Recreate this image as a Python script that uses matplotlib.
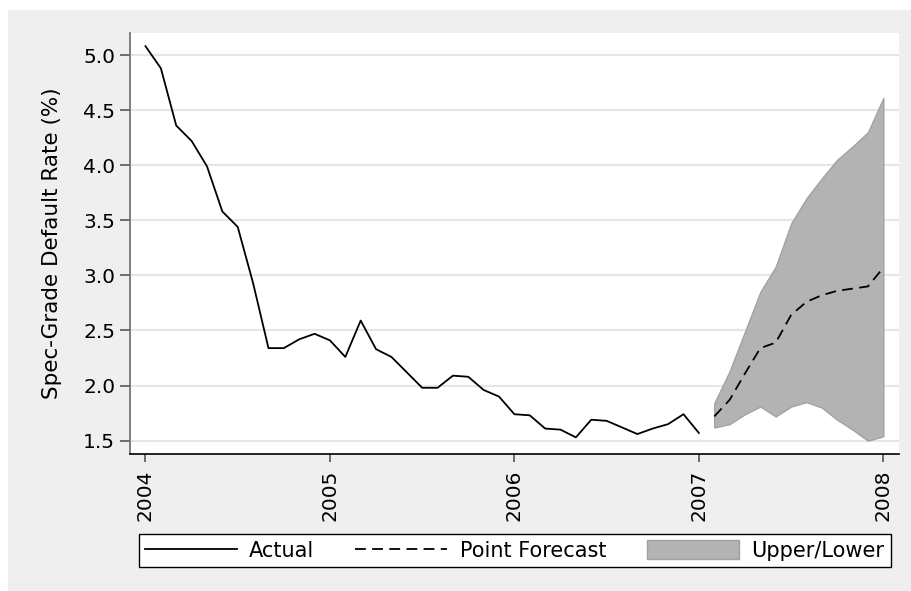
import numpy as np
import matplotlib
matplotlib.use("Agg")
import matplotlib.pyplot as plt
from matplotlib.patches import Rectangle

# monthly speculative-grade default rate, Jan 2004 - Jan 2007
actual = [5.08, 4.88, 4.36, 4.22, 3.99, 3.58, 3.44, 2.93, 2.34, 2.34, 2.42, 2.47, 2.41,
          2.26, 2.59, 2.33, 2.26, 2.12, 1.98, 1.98, 2.09, 2.08, 1.96, 1.90, 1.74,
          1.73, 1.61, 1.60, 1.53, 1.69, 1.68, 1.62, 1.56, 1.61, 1.65, 1.74, 1.57]

# forecast Feb 2007 - Jan 2008
forecast = [1.72, 1.87, 2.11, 2.34, 2.39, 2.64, 2.76, 2.82, 2.86, 2.88, 2.90, 3.07]
upper = [1.84, 2.13, 2.49, 2.85, 3.08, 3.47, 3.70, 3.88, 4.05, 4.17, 4.30, 4.61]
lower = [1.62, 1.65, 1.74, 1.81, 1.72, 1.81, 1.85, 1.80, 1.69, 1.60, 1.50, 1.54]

start_year = 2004
year_ticks = [2004, 2005, 2006, 2007, 2008]
y_ticks = [1.5, 2.0, 2.5, 3.0, 3.5, 4.0, 4.5, 5.0]

x_actual = start_year + np.arange(len(actual)) / 12
x_fc = x_actual[-1] + (np.arange(len(forecast)) + 1) / 12

plt.rcParams['font.family'] = ['DejaVu Sans']
fs = 14.5

W, H = 912, 591
fig = plt.figure(figsize=(W / 100, H / 100), dpi=100, facecolor='white')

# light gray graph region behind the plot
fig.patches.append(Rectangle((8 / W, 0), (W - 8) / W, (H - 10) / H,
                             transform=fig.transFigure, facecolor='#efefef',
                             edgecolor='none', zorder=-10))

ax = fig.add_axes([130 / W, 1 - 454 / H, 769 / W, 421 / H])
ax.set_facecolor('white')

band = ax.fill_between(x_fc, lower, upper, facecolor='#b3b3b3', edgecolor='#a2a2a2',
                       linewidth=1.0, zorder=2, label='Upper/Lower')
ax.plot(x_actual, actual, color='black', linewidth=1.3, zorder=3, label='Actual')
ax.plot(x_fc, forecast, color='black', linewidth=1.3, dashes=(6, 3.5), zorder=3,
        label='Point Forecast')

ax.set_xlim(2003.916, 2008.085)
ax.set_ylim(1.379, 5.2)
ax.set_xticks(year_ticks)
ax.set_xticklabels([str(y) for y in year_ticks], rotation=90, fontsize=fs)
ax.set_yticks(y_ticks)
ax.set_yticklabels([f"{v:.1f}" for v in y_ticks], fontsize=fs)

ax.grid(axis='y', color='#e6e6e6', linewidth=1.5, zorder=1)
ax.set_axisbelow(True)

for s in ['top', 'right']:
    ax.spines[s].set_visible(False)
ax.spines['left'].set_color('#6a6a6a')
ax.spines['left'].set_linewidth(1.2)
ax.spines['bottom'].set_color('black')
ax.spines['bottom'].set_linewidth(1.2)

ax.tick_params(axis='y', length=7.2, width=1.1, color='#4a4a4a', pad=3.5)
ax.tick_params(axis='x', length=5.8, width=1.1, color='#4a4a4a', pad=5.5)

ax.set_ylabel('Spec-Grade Default Rate (%)', fontsize=15.5)
ax.yaxis.set_label_coords(-0.088, 0.5)

handles, labels = ax.get_legend_handles_labels()
order = [labels.index('Actual'), labels.index('Point Forecast'), labels.index('Upper/Lower')]
leg = fig.legend([handles[i] for i in order], [labels[i] for i in order],
                 loc='center', ncol=3, mode='expand', fontsize=15,
                 bbox_to_anchor=(138.7 / W, 1 - 569.3 / H, 752 / W, 37.6 / H),
                 bbox_transform=fig.transFigure, frameon=True, fancybox=False,
                 handlelength=4.4, handleheight=1.0, handletextpad=0.6,
                 borderpad=0.3, borderaxespad=0)
leg.get_frame().set_edgecolor('black')
leg.get_frame().set_linewidth(1.0)
leg.get_frame().set_facecolor('white')
leg.get_frame().set_alpha(1)

fig.savefig('out.png', dpi=100, facecolor=fig.get_facecolor())
